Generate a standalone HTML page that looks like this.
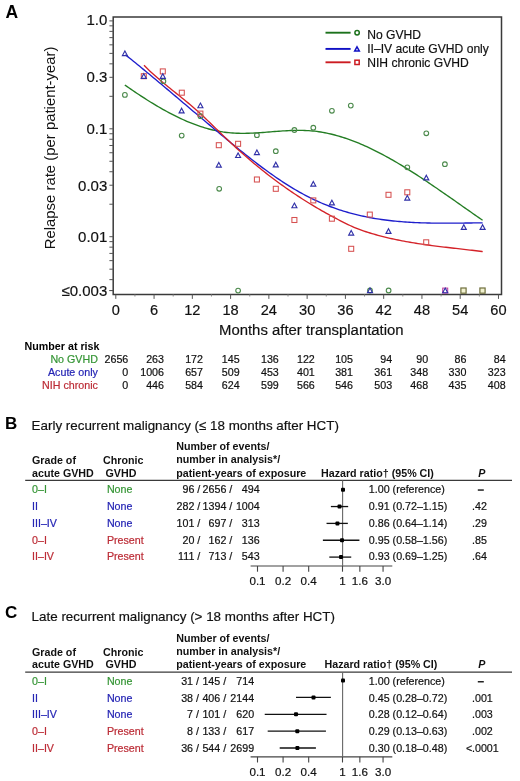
<!DOCTYPE html>
<html><head><meta charset="utf-8"><style>
html,body{margin:0;padding:0;background:#fff;}
svg{display:block;font-family:"Liberation Sans", sans-serif;filter:blur(0.35px);}
</style></head><body>
<svg width="520" height="781" viewBox="0 0 520 781">
<rect width="520" height="781" fill="#fff"/>
<text x="5.60" y="18.00" font-size="17.5" text-anchor="start" font-weight="bold" font-style="normal" fill="#000" >A</text>
<path d="M113.2,294.5 L113.2,17.0 L501.5,17.0 L501.5,294.5 Z" fill="none" stroke="#3a3a3a" stroke-width="1.5"/>
<line x1="109.40" y1="20.90" x2="113.20" y2="20.90" stroke="#555" stroke-width="1" />
<line x1="109.40" y1="96.32" x2="113.20" y2="96.32" stroke="#555" stroke-width="1" />
<line x1="109.40" y1="77.32" x2="113.20" y2="77.32" stroke="#555" stroke-width="1" />
<line x1="109.40" y1="63.84" x2="113.20" y2="63.84" stroke="#555" stroke-width="1" />
<line x1="109.40" y1="53.38" x2="113.20" y2="53.38" stroke="#555" stroke-width="1" />
<line x1="109.40" y1="44.84" x2="113.20" y2="44.84" stroke="#555" stroke-width="1" />
<line x1="109.40" y1="37.61" x2="113.20" y2="37.61" stroke="#555" stroke-width="1" />
<line x1="109.40" y1="31.36" x2="113.20" y2="31.36" stroke="#555" stroke-width="1" />
<line x1="109.40" y1="25.84" x2="113.20" y2="25.84" stroke="#555" stroke-width="1" />
<line x1="109.40" y1="128.80" x2="113.20" y2="128.80" stroke="#555" stroke-width="1" />
<line x1="109.40" y1="204.22" x2="113.20" y2="204.22" stroke="#555" stroke-width="1" />
<line x1="109.40" y1="185.22" x2="113.20" y2="185.22" stroke="#555" stroke-width="1" />
<line x1="109.40" y1="171.74" x2="113.20" y2="171.74" stroke="#555" stroke-width="1" />
<line x1="109.40" y1="161.28" x2="113.20" y2="161.28" stroke="#555" stroke-width="1" />
<line x1="109.40" y1="152.74" x2="113.20" y2="152.74" stroke="#555" stroke-width="1" />
<line x1="109.40" y1="145.51" x2="113.20" y2="145.51" stroke="#555" stroke-width="1" />
<line x1="109.40" y1="139.26" x2="113.20" y2="139.26" stroke="#555" stroke-width="1" />
<line x1="109.40" y1="133.74" x2="113.20" y2="133.74" stroke="#555" stroke-width="1" />
<line x1="109.40" y1="236.70" x2="113.20" y2="236.70" stroke="#555" stroke-width="1" />
<line x1="109.40" y1="279.64" x2="113.20" y2="279.64" stroke="#555" stroke-width="1" />
<line x1="109.40" y1="269.18" x2="113.20" y2="269.18" stroke="#555" stroke-width="1" />
<line x1="109.40" y1="260.64" x2="113.20" y2="260.64" stroke="#555" stroke-width="1" />
<line x1="109.40" y1="253.41" x2="113.20" y2="253.41" stroke="#555" stroke-width="1" />
<line x1="109.40" y1="247.16" x2="113.20" y2="247.16" stroke="#555" stroke-width="1" />
<line x1="109.40" y1="241.64" x2="113.20" y2="241.64" stroke="#555" stroke-width="1" />
<line x1="109.20" y1="290.60" x2="113.20" y2="290.60" stroke="#444" stroke-width="1" />
<text x="107.30" y="25.30" font-size="15" text-anchor="end" font-weight="normal" font-style="normal" fill="#111" stroke="#111" stroke-width="0.18" >1.0</text>
<text x="107.30" y="81.72" font-size="15" text-anchor="end" font-weight="normal" font-style="normal" fill="#111" stroke="#111" stroke-width="0.18" >0.3</text>
<text x="107.30" y="134.00" font-size="15" text-anchor="end" font-weight="normal" font-style="normal" fill="#111" stroke="#111" stroke-width="0.18" >0.1</text>
<text x="107.30" y="190.62" font-size="15" text-anchor="end" font-weight="normal" font-style="normal" fill="#111" stroke="#111" stroke-width="0.18" >0.03</text>
<text x="107.30" y="242.10" font-size="15" text-anchor="end" font-weight="normal" font-style="normal" fill="#111" stroke="#111" stroke-width="0.18" >0.01</text>
<text x="107.30" y="296.20" font-size="15" text-anchor="end" font-weight="normal" font-style="normal" fill="#111" stroke="#111" stroke-width="0.18" >≤0.003</text>
<line x1="115.80" y1="294.50" x2="115.80" y2="298.90" stroke="#555" stroke-width="1" />
<text x="115.80" y="315.20" font-size="14.6" text-anchor="middle" font-weight="normal" font-style="normal" fill="#111" stroke="#111" stroke-width="0.18" >0</text>
<line x1="134.93" y1="294.50" x2="134.93" y2="296.50" stroke="#888" stroke-width="1" />
<line x1="154.07" y1="294.50" x2="154.07" y2="298.90" stroke="#555" stroke-width="1" />
<text x="154.07" y="315.20" font-size="14.6" text-anchor="middle" font-weight="normal" font-style="normal" fill="#111" stroke="#111" stroke-width="0.18" >6</text>
<line x1="173.20" y1="294.50" x2="173.20" y2="296.50" stroke="#888" stroke-width="1" />
<line x1="192.34" y1="294.50" x2="192.34" y2="298.90" stroke="#555" stroke-width="1" />
<text x="192.34" y="315.20" font-size="14.6" text-anchor="middle" font-weight="normal" font-style="normal" fill="#111" stroke="#111" stroke-width="0.18" >12</text>
<line x1="211.47" y1="294.50" x2="211.47" y2="296.50" stroke="#888" stroke-width="1" />
<line x1="230.60" y1="294.50" x2="230.60" y2="298.90" stroke="#555" stroke-width="1" />
<text x="230.60" y="315.20" font-size="14.6" text-anchor="middle" font-weight="normal" font-style="normal" fill="#111" stroke="#111" stroke-width="0.18" >18</text>
<line x1="249.74" y1="294.50" x2="249.74" y2="296.50" stroke="#888" stroke-width="1" />
<line x1="268.87" y1="294.50" x2="268.87" y2="298.90" stroke="#555" stroke-width="1" />
<text x="268.87" y="315.20" font-size="14.6" text-anchor="middle" font-weight="normal" font-style="normal" fill="#111" stroke="#111" stroke-width="0.18" >24</text>
<line x1="288.01" y1="294.50" x2="288.01" y2="296.50" stroke="#888" stroke-width="1" />
<line x1="307.14" y1="294.50" x2="307.14" y2="298.90" stroke="#555" stroke-width="1" />
<text x="307.14" y="315.20" font-size="14.6" text-anchor="middle" font-weight="normal" font-style="normal" fill="#111" stroke="#111" stroke-width="0.18" >30</text>
<line x1="326.27" y1="294.50" x2="326.27" y2="296.50" stroke="#888" stroke-width="1" />
<line x1="345.41" y1="294.50" x2="345.41" y2="298.90" stroke="#555" stroke-width="1" />
<text x="345.41" y="315.20" font-size="14.6" text-anchor="middle" font-weight="normal" font-style="normal" fill="#111" stroke="#111" stroke-width="0.18" >36</text>
<line x1="364.54" y1="294.50" x2="364.54" y2="296.50" stroke="#888" stroke-width="1" />
<line x1="383.68" y1="294.50" x2="383.68" y2="298.90" stroke="#555" stroke-width="1" />
<text x="383.68" y="315.20" font-size="14.6" text-anchor="middle" font-weight="normal" font-style="normal" fill="#111" stroke="#111" stroke-width="0.18" >42</text>
<line x1="402.81" y1="294.50" x2="402.81" y2="296.50" stroke="#888" stroke-width="1" />
<line x1="421.94" y1="294.50" x2="421.94" y2="298.90" stroke="#555" stroke-width="1" />
<text x="421.94" y="315.20" font-size="14.6" text-anchor="middle" font-weight="normal" font-style="normal" fill="#111" stroke="#111" stroke-width="0.18" >48</text>
<line x1="441.08" y1="294.50" x2="441.08" y2="296.50" stroke="#888" stroke-width="1" />
<line x1="460.21" y1="294.50" x2="460.21" y2="298.90" stroke="#555" stroke-width="1" />
<text x="460.21" y="315.20" font-size="14.6" text-anchor="middle" font-weight="normal" font-style="normal" fill="#111" stroke="#111" stroke-width="0.18" >54</text>
<line x1="479.35" y1="294.50" x2="479.35" y2="296.50" stroke="#888" stroke-width="1" />
<line x1="498.48" y1="294.50" x2="498.48" y2="298.90" stroke="#555" stroke-width="1" />
<text x="498.48" y="315.20" font-size="14.6" text-anchor="middle" font-weight="normal" font-style="normal" fill="#111" stroke="#111" stroke-width="0.18" >60</text>
<text x="311.30" y="335.00" font-size="14.9" text-anchor="middle" font-weight="normal" font-style="normal" fill="#111" stroke="#111" stroke-width="0.18" >Months after transplantation</text>
<text transform="translate(54.8,147.9) rotate(-90)" x="0" y="0" font-size="14.9" text-anchor="middle" fill="#111">Relapse rate (per patient-year)</text>
<path d="M124.80,84.94 L126.80,86.34 L128.80,87.73 L130.80,89.11 L132.80,90.48 L134.80,91.84 L136.80,93.19 L138.80,94.52 L140.80,95.84 L142.80,97.14 L144.80,98.43 L146.80,99.71 L148.80,100.97 L150.80,102.21 L152.80,103.44 L154.80,104.65 L156.80,105.84 L158.80,107.01 L160.80,108.17 L162.80,109.31 L164.80,110.42 L166.80,111.52 L168.80,112.60 L170.80,113.65 L172.80,114.69 L174.80,115.70 L176.80,116.68 L178.80,117.65 L180.80,118.59 L182.80,119.51 L184.80,120.40 L186.80,121.27 L188.80,122.11 L190.80,122.92 L192.80,123.71 L194.80,124.47 L196.80,125.20 L198.80,125.90 L200.80,126.58 L202.80,127.22 L204.80,127.84 L206.80,128.42 L208.80,128.98 L210.80,129.50 L212.80,129.99 L214.80,130.44 L216.80,130.87 L218.80,131.26 L220.80,131.61 L222.80,131.94 L224.80,132.22 L226.80,132.47 L228.80,132.69 L230.80,132.87 L232.80,133.02 L234.80,133.14 L236.80,133.22 L238.80,133.29 L240.80,133.32 L242.80,133.33 L244.80,133.32 L246.80,133.29 L248.80,133.24 L250.80,133.17 L252.80,133.08 L254.80,132.98 L256.80,132.87 L258.80,132.74 L260.80,132.61 L262.80,132.46 L264.80,132.32 L266.80,132.16 L268.80,132.00 L270.80,131.85 L272.80,131.69 L274.80,131.53 L276.80,131.37 L278.80,131.23 L280.80,131.08 L282.80,130.95 L284.80,130.82 L286.80,130.71 L288.80,130.61 L290.80,130.52 L292.80,130.45 L294.80,130.40 L296.80,130.36 L298.80,130.35 L300.80,130.36 L302.80,130.40 L304.80,130.46 L306.80,130.55 L308.80,130.66 L310.80,130.81 L312.80,130.99 L314.80,131.20 L316.80,131.45 L318.80,131.72 L320.80,132.03 L322.80,132.37 L324.80,132.74 L326.80,133.14 L328.80,133.56 L330.80,134.02 L332.80,134.51 L334.80,135.02 L336.80,135.56 L338.80,136.13 L340.80,136.73 L342.80,137.35 L344.80,138.00 L346.80,138.67 L348.80,139.37 L350.80,140.10 L352.80,140.84 L354.80,141.62 L356.80,142.41 L358.80,143.23 L360.80,144.07 L362.80,144.93 L364.80,145.82 L366.80,146.72 L368.80,147.65 L370.80,148.59 L372.80,149.56 L374.80,150.54 L376.80,151.55 L378.80,152.57 L380.80,153.61 L382.80,154.67 L384.80,155.75 L386.80,156.84 L388.80,157.95 L390.80,159.07 L392.80,160.21 L394.80,161.37 L396.80,162.54 L398.80,163.72 L400.80,164.92 L402.80,166.13 L404.80,167.36 L406.80,168.59 L408.80,169.84 L410.80,171.10 L412.80,172.37 L414.80,173.65 L416.80,174.94 L418.80,176.24 L420.80,177.55 L422.80,178.87 L424.80,180.20 L426.80,181.53 L428.80,182.88 L430.80,184.23 L432.80,185.58 L434.80,186.95 L436.80,188.31 L438.80,189.69 L440.80,191.07 L442.80,192.45 L444.80,193.84 L446.80,195.23 L448.80,196.62 L450.80,198.02 L452.80,199.42 L454.80,200.82 L456.80,202.22 L458.80,203.62 L460.80,205.03 L462.80,206.43 L464.80,207.83 L466.80,209.23 L468.80,210.64 L470.80,212.03 L472.80,213.43 L474.80,214.83 L476.80,216.22 L478.80,217.61 L480.80,218.99 L482.60,220.23" fill="none" stroke="#237d23" stroke-width="1.35" stroke-linejoin="round"/>
<path d="M125.40,54.77 L127.40,56.37 L129.40,57.97 L131.40,59.59 L133.40,61.20 L135.40,62.83 L137.40,64.45 L139.40,66.09 L141.40,67.73 L143.40,69.37 L145.40,71.02 L147.40,72.67 L149.40,74.33 L151.40,75.99 L153.40,77.65 L155.40,79.32 L157.40,80.99 L159.40,82.66 L161.40,84.34 L163.40,86.02 L165.40,87.70 L167.40,89.39 L169.40,91.07 L171.40,92.76 L173.40,94.45 L175.40,96.14 L177.40,97.83 L179.40,99.53 L181.40,101.22 L183.40,102.91 L185.40,104.61 L187.40,106.30 L189.40,108.00 L191.40,109.69 L193.40,111.39 L195.40,113.08 L197.40,114.77 L199.40,116.46 L201.40,118.15 L203.40,119.84 L205.40,121.52 L207.40,123.21 L209.40,124.89 L211.40,126.57 L213.40,128.24 L215.40,129.92 L217.40,131.59 L219.40,133.25 L221.40,134.92 L223.40,136.58 L225.40,138.23 L227.40,139.88 L229.40,141.53 L231.40,143.17 L233.40,144.81 L235.40,146.44 L237.40,148.07 L239.40,149.68 L241.40,151.30 L243.40,152.90 L245.40,154.49 L247.40,156.08 L249.40,157.65 L251.40,159.22 L253.40,160.77 L255.40,162.31 L257.40,163.84 L259.40,165.35 L261.40,166.86 L263.40,168.35 L265.40,169.82 L267.40,171.28 L269.40,172.72 L271.40,174.14 L273.40,175.55 L275.40,176.94 L277.40,178.32 L279.40,179.67 L281.40,181.00 L283.40,182.32 L285.40,183.61 L287.40,184.88 L289.40,186.13 L291.40,187.36 L293.40,188.57 L295.40,189.75 L297.40,190.91 L299.40,192.05 L301.40,193.17 L303.40,194.26 L305.40,195.33 L307.40,196.37 L309.40,197.39 L311.40,198.39 L313.40,199.36 L315.40,200.30 L317.40,201.23 L319.40,202.12 L321.40,203.00 L323.40,203.84 L325.40,204.67 L327.40,205.47 L329.40,206.25 L331.40,207.00 L333.40,207.74 L335.40,208.45 L337.40,209.14 L339.40,209.81 L341.40,210.46 L343.40,211.08 L345.40,211.69 L347.40,212.27 L349.40,212.84 L351.40,213.39 L353.40,213.92 L355.40,214.42 L357.40,214.92 L359.40,215.39 L361.40,215.84 L363.40,216.28 L365.40,216.70 L367.40,217.10 L369.40,217.49 L371.40,217.86 L373.40,218.22 L375.40,218.56 L377.40,218.88 L379.40,219.19 L381.40,219.48 L383.40,219.76 L385.40,220.03 L387.40,220.28 L389.40,220.52 L391.40,220.75 L393.40,220.96 L395.40,221.17 L397.40,221.36 L399.40,221.53 L401.40,221.70 L403.40,221.86 L405.40,222.00 L407.40,222.14 L409.40,222.26 L411.40,222.38 L413.40,222.49 L415.40,222.58 L417.40,222.67 L419.40,222.75 L421.40,222.82 L423.40,222.89 L425.40,222.95 L427.40,222.99 L429.40,223.04 L431.40,223.07 L433.40,223.11 L435.40,223.13 L437.40,223.15 L439.40,223.16 L441.40,223.17 L443.40,223.18 L445.40,223.18 L447.40,223.18 L449.40,223.17 L451.40,223.16 L453.40,223.15 L455.40,223.13 L457.40,223.12 L459.40,223.10 L461.40,223.08 L463.40,223.06 L465.40,223.03 L467.40,223.01 L469.40,222.99 L471.40,222.96 L473.40,222.94 L475.40,222.92 L477.40,222.90 L479.40,222.88 L481.40,222.86 L482.60,222.85" fill="none" stroke="#1e1ecc" stroke-width="1.35" stroke-linejoin="round"/>
<path d="M144.00,65.34 L146.00,67.33 L148.00,69.27 L150.00,71.16 L152.00,73.01 L154.00,74.83 L156.00,76.60 L158.00,78.35 L160.00,80.06 L162.00,81.75 L164.00,83.42 L166.00,85.06 L168.00,86.70 L170.00,88.32 L172.00,89.93 L174.00,91.53 L176.00,93.13 L178.00,94.74 L180.00,96.34 L182.00,97.96 L184.00,99.59 L186.00,101.23 L188.00,102.88 L190.00,104.56 L192.00,106.27 L194.00,108.00 L196.00,109.76 L198.00,111.55 L200.00,113.37 L202.00,115.22 L204.00,117.09 L206.00,118.98 L208.00,120.88 L210.00,122.80 L212.00,124.73 L214.00,126.67 L216.00,128.61 L218.00,130.55 L220.00,132.49 L222.00,134.43 L224.00,136.37 L226.00,138.29 L228.00,140.20 L230.00,142.09 L232.00,143.97 L234.00,145.83 L236.00,147.67 L238.00,149.49 L240.00,151.29 L242.00,153.07 L244.00,154.84 L246.00,156.59 L248.00,158.32 L250.00,160.04 L252.00,161.73 L254.00,163.41 L256.00,165.07 L258.00,166.72 L260.00,168.34 L262.00,169.95 L264.00,171.55 L266.00,173.12 L268.00,174.68 L270.00,176.23 L272.00,177.75 L274.00,179.26 L276.00,180.75 L278.00,182.23 L280.00,183.69 L282.00,185.14 L284.00,186.56 L286.00,187.98 L288.00,189.37 L290.00,190.75 L292.00,192.12 L294.00,193.47 L296.00,194.80 L298.00,196.12 L300.00,197.43 L302.00,198.72 L304.00,199.99 L306.00,201.25 L308.00,202.49 L310.00,203.72 L312.00,204.93 L314.00,206.13 L316.00,207.32 L318.00,208.49 L320.00,209.65 L322.00,210.79 L324.00,211.92 L326.00,213.04 L328.00,214.15 L330.00,215.24 L332.00,216.32 L334.00,217.40 L336.00,218.46 L338.00,219.51 L340.00,220.55 L342.00,221.58 L344.00,222.60 L346.00,223.60 L348.00,224.57 L350.00,225.51 L352.00,226.41 L354.00,227.28 L356.00,228.11 L358.00,228.90 L360.00,229.65 L362.00,230.38 L364.00,231.08 L366.00,231.75 L368.00,232.39 L370.00,233.01 L372.00,233.61 L374.00,234.19 L376.00,234.75 L378.00,235.30 L380.00,235.84 L382.00,236.36 L384.00,236.86 L386.00,237.35 L388.00,237.82 L390.00,238.29 L392.00,238.74 L394.00,239.17 L396.00,239.60 L398.00,240.01 L400.00,240.41 L402.00,240.80 L404.00,241.18 L406.00,241.54 L408.00,241.90 L410.00,242.25 L412.00,242.59 L414.00,242.92 L416.00,243.24 L418.00,243.55 L420.00,243.86 L422.00,244.16 L424.00,244.45 L426.00,244.73 L428.00,245.01 L430.00,245.28 L432.00,245.55 L434.00,245.81 L436.00,246.07 L438.00,246.32 L440.00,246.57 L442.00,246.81 L444.00,247.05 L446.00,247.29 L448.00,247.53 L450.00,247.76 L452.00,247.99 L454.00,248.22 L456.00,248.45 L458.00,248.68 L460.00,248.91 L462.00,249.14 L464.00,249.37 L466.00,249.59 L468.00,249.83 L470.00,250.06 L472.00,250.29 L474.00,250.53 L476.00,250.77 L478.00,251.01 L480.00,251.26 L482.00,251.51 L482.70,251.60" fill="none" stroke="#d42228" stroke-width="1.35" stroke-linejoin="round"/>
<circle cx="124.9" cy="94.9" r="2.35" fill="none" stroke="#4c8a4c" stroke-width="1.1"/>
<circle cx="163.4" cy="81.2" r="2.35" fill="none" stroke="#4c8a4c" stroke-width="1.1"/>
<circle cx="181.7" cy="135.6" r="2.35" fill="none" stroke="#4c8a4c" stroke-width="1.1"/>
<circle cx="200.5" cy="116.2" r="2.35" fill="none" stroke="#4c8a4c" stroke-width="1.1"/>
<circle cx="219.2" cy="188.8" r="2.35" fill="none" stroke="#4c8a4c" stroke-width="1.1"/>
<circle cx="238.1" cy="290.6" r="2.35" fill="none" stroke="#4c8a4c" stroke-width="1.1"/>
<circle cx="256.9" cy="135.2" r="2.35" fill="none" stroke="#4c8a4c" stroke-width="1.1"/>
<circle cx="275.8" cy="151.2" r="2.35" fill="none" stroke="#4c8a4c" stroke-width="1.1"/>
<circle cx="294.4" cy="130" r="2.35" fill="none" stroke="#4c8a4c" stroke-width="1.1"/>
<circle cx="313.3" cy="127.7" r="2.35" fill="none" stroke="#4c8a4c" stroke-width="1.1"/>
<circle cx="331.9" cy="110.8" r="2.35" fill="none" stroke="#4c8a4c" stroke-width="1.1"/>
<circle cx="350.8" cy="105.6" r="2.35" fill="none" stroke="#4c8a4c" stroke-width="1.1"/>
<circle cx="370" cy="290.5" r="2.35" fill="none" stroke="#4c8a4c" stroke-width="1.1"/>
<circle cx="388.6" cy="290.5" r="2.35" fill="none" stroke="#4c8a4c" stroke-width="1.1"/>
<circle cx="407.3" cy="167.3" r="2.35" fill="none" stroke="#4c8a4c" stroke-width="1.1"/>
<circle cx="426.3" cy="133.3" r="2.35" fill="none" stroke="#4c8a4c" stroke-width="1.1"/>
<circle cx="444.9" cy="164.2" r="2.35" fill="none" stroke="#4c8a4c" stroke-width="1.1"/>
<rect x="141.3" y="73.7" width="5" height="5" fill="none" stroke="#d65050" stroke-width="1.05"/>
<rect x="160.3" y="68.9" width="5" height="5" fill="none" stroke="#d65050" stroke-width="1.05"/>
<rect x="179.3" y="90.2" width="5" height="5" fill="none" stroke="#d65050" stroke-width="1.05"/>
<rect x="197.9" y="111.1" width="5" height="5" fill="none" stroke="#d65050" stroke-width="1.05"/>
<rect x="216.3" y="142.7" width="5" height="5" fill="none" stroke="#d65050" stroke-width="1.05"/>
<rect x="235.6" y="141.3" width="5" height="5" fill="none" stroke="#d65050" stroke-width="1.05"/>
<rect x="254.39999999999998" y="177.0" width="5" height="5" fill="none" stroke="#d65050" stroke-width="1.05"/>
<rect x="273.3" y="186.3" width="5" height="5" fill="none" stroke="#d65050" stroke-width="1.05"/>
<rect x="291.9" y="217.5" width="5" height="5" fill="none" stroke="#d65050" stroke-width="1.05"/>
<rect x="310.8" y="197.9" width="5" height="5" fill="none" stroke="#d65050" stroke-width="1.05"/>
<rect x="329.4" y="216.2" width="5" height="5" fill="none" stroke="#d65050" stroke-width="1.05"/>
<rect x="348.7" y="246.3" width="5" height="5" fill="none" stroke="#d65050" stroke-width="1.05"/>
<rect x="367.3" y="212.1" width="5" height="5" fill="none" stroke="#d65050" stroke-width="1.05"/>
<rect x="386.0" y="192.3" width="5" height="5" fill="none" stroke="#d65050" stroke-width="1.05"/>
<rect x="404.8" y="189.8" width="5" height="5" fill="none" stroke="#d65050" stroke-width="1.05"/>
<rect x="423.7" y="239.8" width="5" height="5" fill="none" stroke="#d65050" stroke-width="1.05"/>
<rect x="442.7" y="288.1" width="5" height="5" fill="none" stroke="#c040a0" stroke-width="1.05"/>
<path d="M124.9,51.0 L127.4,55.6 L122.4,55.6 Z" fill="none" stroke="#3030a8" stroke-width="1.15" stroke-linejoin="miter"/>
<path d="M143.8,73.7 L146.3,78.3 L141.3,78.3 Z" fill="none" stroke="#3030a8" stroke-width="1.15" stroke-linejoin="miter"/>
<path d="M162.8,73.7 L165.3,78.3 L160.3,78.3 Z" fill="none" stroke="#3030a8" stroke-width="1.15" stroke-linejoin="miter"/>
<path d="M181.6,108.3 L184.1,112.89999999999999 L179.1,112.89999999999999 Z" fill="none" stroke="#3030a8" stroke-width="1.15" stroke-linejoin="miter"/>
<path d="M200.4,103.1 L202.9,107.69999999999999 L197.9,107.69999999999999 Z" fill="none" stroke="#3030a8" stroke-width="1.15" stroke-linejoin="miter"/>
<path d="M218.8,162.5 L221.3,167.1 L216.3,167.1 Z" fill="none" stroke="#3030a8" stroke-width="1.15" stroke-linejoin="miter"/>
<path d="M238.1,152.9 L240.6,157.5 L235.6,157.5 Z" fill="none" stroke="#3030a8" stroke-width="1.15" stroke-linejoin="miter"/>
<path d="M256.9,150.0 L259.4,154.6 L254.39999999999998,154.6 Z" fill="none" stroke="#3030a8" stroke-width="1.15" stroke-linejoin="miter"/>
<path d="M275.8,162.3 L278.3,166.9 L273.3,166.9 Z" fill="none" stroke="#3030a8" stroke-width="1.15" stroke-linejoin="miter"/>
<path d="M294.4,203.1 L296.9,207.7 L291.9,207.7 Z" fill="none" stroke="#3030a8" stroke-width="1.15" stroke-linejoin="miter"/>
<path d="M313.3,181.5 L315.8,186.1 L310.8,186.1 Z" fill="none" stroke="#3030a8" stroke-width="1.15" stroke-linejoin="miter"/>
<path d="M331.9,200.2 L334.4,204.79999999999998 L329.4,204.79999999999998 Z" fill="none" stroke="#3030a8" stroke-width="1.15" stroke-linejoin="miter"/>
<path d="M351.2,230.5 L353.7,235.1 L348.7,235.1 Z" fill="none" stroke="#3030a8" stroke-width="1.15" stroke-linejoin="miter"/>
<path d="M370,288.0 L372.5,292.6 L367.5,292.6 Z" fill="none" stroke="#3030a8" stroke-width="1.15" stroke-linejoin="miter"/>
<path d="M388.5,228.8 L391.0,233.4 L386.0,233.4 Z" fill="none" stroke="#3030a8" stroke-width="1.15" stroke-linejoin="miter"/>
<path d="M407.3,195.5 L409.8,200.1 L404.8,200.1 Z" fill="none" stroke="#3030a8" stroke-width="1.15" stroke-linejoin="miter"/>
<path d="M426.3,175.3 L428.8,179.9 L423.8,179.9 Z" fill="none" stroke="#3030a8" stroke-width="1.15" stroke-linejoin="miter"/>
<path d="M445.2,288.1 L447.7,292.70000000000005 L442.7,292.70000000000005 Z" fill="none" stroke="#3030a8" stroke-width="1.15" stroke-linejoin="miter"/>
<path d="M463.8,224.8 L466.3,229.4 L461.3,229.4 Z" fill="none" stroke="#3030a8" stroke-width="1.15" stroke-linejoin="miter"/>
<path d="M482.6,224.8 L485.1,229.4 L480.1,229.4 Z" fill="none" stroke="#3030a8" stroke-width="1.15" stroke-linejoin="miter"/>
<rect x="460.9" y="288.0" width="5.2" height="5.2" fill="#f2f2d0" stroke="#6e6e3c" stroke-width="1.2"/>
<rect x="479.9" y="288.0" width="5.2" height="5.2" fill="#f2f2d0" stroke="#6e6e3c" stroke-width="1.2"/>
<line x1="325.50" y1="32.70" x2="350.60" y2="32.70" stroke="#1c721c" stroke-width="1.9" />
<circle cx="357.1" cy="32.7" r="2.2" fill="none" stroke="#1c721c" stroke-width="1.5"/>
<text x="367.20" y="38.60" font-size="12.1" text-anchor="start" font-weight="normal" font-style="normal" fill="#111" stroke="#111" stroke-width="0.18" >No GVHD</text>
<line x1="325.50" y1="48.90" x2="350.60" y2="48.90" stroke="#1010c4" stroke-width="1.9" />
<path d="M357,46.8 L359.3,50.9 L354.7,50.9 Z" fill="none" stroke="#1010c4" stroke-width="1.5"/>
<text x="367.20" y="52.90" font-size="12.1" text-anchor="start" font-weight="normal" font-style="normal" fill="#111" stroke="#111" stroke-width="0.18" >II–IV acute GVHD only</text>
<line x1="325.50" y1="62.30" x2="350.60" y2="62.30" stroke="#cc1c22" stroke-width="1.9" />
<rect x="354.9" y="60.199999999999996" width="4.3" height="4.3" fill="none" stroke="#cc1c22" stroke-width="1.5"/>
<text x="367.20" y="67.20" font-size="12.1" text-anchor="start" font-weight="normal" font-style="normal" fill="#111" stroke="#111" stroke-width="0.18" >NIH chronic GVHD</text>
<text x="24.60" y="350.00" font-size="10.7" text-anchor="start" font-weight="bold" font-style="normal" fill="#000" >Number at risk</text>
<text x="97.90" y="362.80" font-size="10.7" text-anchor="end" font-weight="normal" font-style="normal" fill="#359535" stroke="#359535" stroke-width="0.2" >No GVHD</text>
<text x="128.30" y="362.80" font-size="10.7" text-anchor="end" font-weight="normal" font-style="normal" fill="#111" stroke="#111" stroke-width="0.2" >2656</text>
<text x="164.00" y="362.80" font-size="10.7" text-anchor="end" font-weight="normal" font-style="normal" fill="#111" stroke="#111" stroke-width="0.2" >263</text>
<text x="203.00" y="362.80" font-size="10.7" text-anchor="end" font-weight="normal" font-style="normal" fill="#111" stroke="#111" stroke-width="0.2" >172</text>
<text x="239.60" y="362.80" font-size="10.7" text-anchor="end" font-weight="normal" font-style="normal" fill="#111" stroke="#111" stroke-width="0.2" >145</text>
<text x="278.80" y="362.80" font-size="10.7" text-anchor="end" font-weight="normal" font-style="normal" fill="#111" stroke="#111" stroke-width="0.2" >136</text>
<text x="314.80" y="362.80" font-size="10.7" text-anchor="end" font-weight="normal" font-style="normal" fill="#111" stroke="#111" stroke-width="0.2" >122</text>
<text x="353.00" y="362.80" font-size="10.7" text-anchor="end" font-weight="normal" font-style="normal" fill="#111" stroke="#111" stroke-width="0.2" >105</text>
<text x="392.20" y="362.80" font-size="10.7" text-anchor="end" font-weight="normal" font-style="normal" fill="#111" stroke="#111" stroke-width="0.2" >94</text>
<text x="428.20" y="362.80" font-size="10.7" text-anchor="end" font-weight="normal" font-style="normal" fill="#111" stroke="#111" stroke-width="0.2" >90</text>
<text x="466.40" y="362.80" font-size="10.7" text-anchor="end" font-weight="normal" font-style="normal" fill="#111" stroke="#111" stroke-width="0.2" >86</text>
<text x="505.70" y="362.80" font-size="10.7" text-anchor="end" font-weight="normal" font-style="normal" fill="#111" stroke="#111" stroke-width="0.2" >84</text>
<text x="97.90" y="376.00" font-size="10.7" text-anchor="end" font-weight="normal" font-style="normal" fill="#2424b4" stroke="#2424b4" stroke-width="0.2" >Acute only</text>
<text x="128.30" y="376.00" font-size="10.7" text-anchor="end" font-weight="normal" font-style="normal" fill="#111" stroke="#111" stroke-width="0.2" >0</text>
<text x="164.00" y="376.00" font-size="10.7" text-anchor="end" font-weight="normal" font-style="normal" fill="#111" stroke="#111" stroke-width="0.2" >1006</text>
<text x="203.00" y="376.00" font-size="10.7" text-anchor="end" font-weight="normal" font-style="normal" fill="#111" stroke="#111" stroke-width="0.2" >657</text>
<text x="239.60" y="376.00" font-size="10.7" text-anchor="end" font-weight="normal" font-style="normal" fill="#111" stroke="#111" stroke-width="0.2" >509</text>
<text x="278.80" y="376.00" font-size="10.7" text-anchor="end" font-weight="normal" font-style="normal" fill="#111" stroke="#111" stroke-width="0.2" >453</text>
<text x="314.80" y="376.00" font-size="10.7" text-anchor="end" font-weight="normal" font-style="normal" fill="#111" stroke="#111" stroke-width="0.2" >401</text>
<text x="353.00" y="376.00" font-size="10.7" text-anchor="end" font-weight="normal" font-style="normal" fill="#111" stroke="#111" stroke-width="0.2" >381</text>
<text x="392.20" y="376.00" font-size="10.7" text-anchor="end" font-weight="normal" font-style="normal" fill="#111" stroke="#111" stroke-width="0.2" >361</text>
<text x="428.20" y="376.00" font-size="10.7" text-anchor="end" font-weight="normal" font-style="normal" fill="#111" stroke="#111" stroke-width="0.2" >348</text>
<text x="466.40" y="376.00" font-size="10.7" text-anchor="end" font-weight="normal" font-style="normal" fill="#111" stroke="#111" stroke-width="0.2" >330</text>
<text x="505.70" y="376.00" font-size="10.7" text-anchor="end" font-weight="normal" font-style="normal" fill="#111" stroke="#111" stroke-width="0.2" >323</text>
<text x="97.90" y="389.20" font-size="10.7" text-anchor="end" font-weight="normal" font-style="normal" fill="#bc2c36" stroke="#bc2c36" stroke-width="0.2" >NIH chronic</text>
<text x="128.30" y="389.20" font-size="10.7" text-anchor="end" font-weight="normal" font-style="normal" fill="#111" stroke="#111" stroke-width="0.2" >0</text>
<text x="164.00" y="389.20" font-size="10.7" text-anchor="end" font-weight="normal" font-style="normal" fill="#111" stroke="#111" stroke-width="0.2" >446</text>
<text x="203.00" y="389.20" font-size="10.7" text-anchor="end" font-weight="normal" font-style="normal" fill="#111" stroke="#111" stroke-width="0.2" >584</text>
<text x="239.60" y="389.20" font-size="10.7" text-anchor="end" font-weight="normal" font-style="normal" fill="#111" stroke="#111" stroke-width="0.2" >624</text>
<text x="278.80" y="389.20" font-size="10.7" text-anchor="end" font-weight="normal" font-style="normal" fill="#111" stroke="#111" stroke-width="0.2" >599</text>
<text x="314.80" y="389.20" font-size="10.7" text-anchor="end" font-weight="normal" font-style="normal" fill="#111" stroke="#111" stroke-width="0.2" >566</text>
<text x="353.00" y="389.20" font-size="10.7" text-anchor="end" font-weight="normal" font-style="normal" fill="#111" stroke="#111" stroke-width="0.2" >546</text>
<text x="392.20" y="389.20" font-size="10.7" text-anchor="end" font-weight="normal" font-style="normal" fill="#111" stroke="#111" stroke-width="0.2" >503</text>
<text x="428.20" y="389.20" font-size="10.7" text-anchor="end" font-weight="normal" font-style="normal" fill="#111" stroke="#111" stroke-width="0.2" >468</text>
<text x="466.40" y="389.20" font-size="10.7" text-anchor="end" font-weight="normal" font-style="normal" fill="#111" stroke="#111" stroke-width="0.2" >435</text>
<text x="505.70" y="389.20" font-size="10.7" text-anchor="end" font-weight="normal" font-style="normal" fill="#111" stroke="#111" stroke-width="0.2" >408</text>
<text x="5.00" y="428.50" font-size="17" text-anchor="start" font-weight="bold" font-style="normal" fill="#000" >B</text>
<text x="31.60" y="429.60" font-size="13.4" text-anchor="start" font-weight="normal" font-style="normal" fill="#111" stroke="#111" stroke-width="0.18" >Early recurrent malignancy (≤ 18 months after HCT)</text>
<text x="32.00" y="464.40" font-size="10.7" text-anchor="start" font-weight="bold" font-style="normal" fill="#111" >Grade of</text>
<text x="32.00" y="476.60" font-size="10.7" text-anchor="start" font-weight="bold" font-style="normal" fill="#111" >acute GVHD</text>
<text x="103.00" y="464.40" font-size="10.7" text-anchor="start" font-weight="bold" font-style="normal" fill="#111" >Chronic</text>
<text x="105.50" y="476.60" font-size="10.7" text-anchor="start" font-weight="bold" font-style="normal" fill="#111" >GVHD</text>
<text x="176.20" y="450.20" font-size="10.7" text-anchor="start" font-weight="bold" font-style="normal" fill="#111" >Number of events/</text>
<text x="176.20" y="463.40" font-size="10.7" text-anchor="start" font-weight="bold" font-style="normal" fill="#111" >number in analysis*/</text>
<text x="176.20" y="476.60" font-size="10.7" text-anchor="start" font-weight="bold" font-style="normal" fill="#111" >patient-years of exposure</text>
<text x="321.00" y="476.60" font-size="10.7" text-anchor="start" font-weight="bold" font-style="normal" fill="#111" >Hazard ratio† (95% CI)</text>
<text x="481.80" y="476.60" font-size="10.7" text-anchor="middle" font-weight="bold" font-style="italic" fill="#111" >P</text>
<line x1="25.20" y1="480.40" x2="512.00" y2="480.40" stroke="#3a3a3a" stroke-width="1.1" />
<line x1="250.60" y1="566.00" x2="392.30" y2="566.00" stroke="#444" stroke-width="1.2" />
<line x1="342.60" y1="480.40" x2="342.60" y2="566.00" stroke="#666" stroke-width="1.1" />
<line x1="257.50" y1="566.00" x2="257.50" y2="571.70" stroke="#444" stroke-width="1.1" />
<text x="257.50" y="584.70" font-size="11.6" text-anchor="middle" font-weight="normal" font-style="normal" fill="#111" stroke="#111" stroke-width="0.2" >0.1</text>
<line x1="283.09" y1="566.00" x2="283.09" y2="571.70" stroke="#444" stroke-width="1.1" />
<text x="283.09" y="584.70" font-size="11.6" text-anchor="middle" font-weight="normal" font-style="normal" fill="#111" stroke="#111" stroke-width="0.2" >0.2</text>
<line x1="308.68" y1="566.00" x2="308.68" y2="571.70" stroke="#444" stroke-width="1.1" />
<text x="308.68" y="584.70" font-size="11.6" text-anchor="middle" font-weight="normal" font-style="normal" fill="#111" stroke="#111" stroke-width="0.2" >0.4</text>
<line x1="342.50" y1="566.00" x2="342.50" y2="571.70" stroke="#444" stroke-width="1.1" />
<text x="342.50" y="584.70" font-size="11.6" text-anchor="middle" font-weight="normal" font-style="normal" fill="#111" stroke="#111" stroke-width="0.2" >1</text>
<line x1="359.85" y1="566.00" x2="359.85" y2="571.70" stroke="#444" stroke-width="1.1" />
<text x="359.85" y="584.70" font-size="11.6" text-anchor="middle" font-weight="normal" font-style="normal" fill="#111" stroke="#111" stroke-width="0.2" >1.6</text>
<line x1="383.06" y1="566.00" x2="383.06" y2="571.70" stroke="#444" stroke-width="1.1" />
<text x="383.06" y="584.70" font-size="11.6" text-anchor="middle" font-weight="normal" font-style="normal" fill="#111" stroke="#111" stroke-width="0.2" >3.0</text>
<text x="32.00" y="493.00" font-size="10.7" text-anchor="start" font-weight="normal" font-style="normal" fill="#359535" stroke="#359535" stroke-width="0.2" >0–I</text>
<text x="106.90" y="493.00" font-size="10.7" text-anchor="start" font-weight="normal" font-style="normal" fill="#359535" stroke="#359535" stroke-width="0.2" >None</text>
<text x="200.30" y="493.00" font-size="10.7" text-anchor="end" font-weight="normal" font-style="normal" fill="#111" stroke="#111" stroke-width="0.2" >96 /</text>
<text x="232.30" y="493.00" font-size="10.7" text-anchor="end" font-weight="normal" font-style="normal" fill="#111" stroke="#111" stroke-width="0.2" >2656 /</text>
<text x="259.70" y="493.00" font-size="10.7" text-anchor="end" font-weight="normal" font-style="normal" fill="#111" stroke="#111" stroke-width="0.2" >494</text>
<rect x="341.00" y="487.70" width="4" height="4" rx="1" fill="#000"/>
<text x="368.80" y="493.00" font-size="10.7" text-anchor="start" font-weight="normal" font-style="normal" fill="#111" stroke="#111" stroke-width="0.2" >1.00 (reference)</text>
<rect x="477.8" y="489.30" width="6" height="1.5" fill="#222"/>
<text x="32.00" y="509.85" font-size="10.7" text-anchor="start" font-weight="normal" font-style="normal" fill="#2424b4" stroke="#2424b4" stroke-width="0.2" >II</text>
<text x="106.90" y="509.85" font-size="10.7" text-anchor="start" font-weight="normal" font-style="normal" fill="#2424b4" stroke="#2424b4" stroke-width="0.2" >None</text>
<text x="200.30" y="509.85" font-size="10.7" text-anchor="end" font-weight="normal" font-style="normal" fill="#111" stroke="#111" stroke-width="0.2" >282 /</text>
<text x="232.30" y="509.85" font-size="10.7" text-anchor="end" font-weight="normal" font-style="normal" fill="#111" stroke="#111" stroke-width="0.2" >1394 /</text>
<text x="259.70" y="509.85" font-size="10.7" text-anchor="end" font-weight="normal" font-style="normal" fill="#111" stroke="#111" stroke-width="0.2" >1004</text>
<line x1="330.87" y1="506.55" x2="348.16" y2="506.55" stroke="#111" stroke-width="1.3" />
<rect x="337.52" y="504.55" width="4" height="4" rx="1" fill="#000"/>
<text x="368.80" y="509.85" font-size="10.7" text-anchor="start" font-weight="normal" font-style="normal" fill="#111" stroke="#111" stroke-width="0.2" >0.91 (0.72–1.15)</text>
<text x="472.00" y="509.85" font-size="10.7" text-anchor="start" font-weight="normal" font-style="normal" fill="#111" stroke="#111" stroke-width="0.2" >.42</text>
<text x="32.00" y="526.70" font-size="10.7" text-anchor="start" font-weight="normal" font-style="normal" fill="#2424b4" stroke="#2424b4" stroke-width="0.2" >III–IV</text>
<text x="106.90" y="526.70" font-size="10.7" text-anchor="start" font-weight="normal" font-style="normal" fill="#2424b4" stroke="#2424b4" stroke-width="0.2" >None</text>
<text x="200.30" y="526.70" font-size="10.7" text-anchor="end" font-weight="normal" font-style="normal" fill="#111" stroke="#111" stroke-width="0.2" >101 /</text>
<text x="232.30" y="526.70" font-size="10.7" text-anchor="end" font-weight="normal" font-style="normal" fill="#111" stroke="#111" stroke-width="0.2" >697 /</text>
<text x="259.70" y="526.70" font-size="10.7" text-anchor="end" font-weight="normal" font-style="normal" fill="#111" stroke="#111" stroke-width="0.2" >313</text>
<line x1="326.53" y1="523.40" x2="347.84" y2="523.40" stroke="#111" stroke-width="1.3" />
<rect x="335.43" y="521.40" width="4" height="4" rx="1" fill="#000"/>
<text x="368.80" y="526.70" font-size="10.7" text-anchor="start" font-weight="normal" font-style="normal" fill="#111" stroke="#111" stroke-width="0.2" >0.86 (0.64–1.14)</text>
<text x="472.00" y="526.70" font-size="10.7" text-anchor="start" font-weight="normal" font-style="normal" fill="#111" stroke="#111" stroke-width="0.2" >.29</text>
<text x="32.00" y="543.55" font-size="10.7" text-anchor="start" font-weight="normal" font-style="normal" fill="#bc2c36" stroke="#bc2c36" stroke-width="0.2" >0–I</text>
<text x="106.90" y="543.55" font-size="10.7" text-anchor="start" font-weight="normal" font-style="normal" fill="#bc2c36" stroke="#bc2c36" stroke-width="0.2" >Present</text>
<text x="200.30" y="543.55" font-size="10.7" text-anchor="end" font-weight="normal" font-style="normal" fill="#111" stroke="#111" stroke-width="0.2" >20 /</text>
<text x="232.30" y="543.55" font-size="10.7" text-anchor="end" font-weight="normal" font-style="normal" fill="#111" stroke="#111" stroke-width="0.2" >162 /</text>
<text x="259.70" y="543.55" font-size="10.7" text-anchor="end" font-weight="normal" font-style="normal" fill="#111" stroke="#111" stroke-width="0.2" >136</text>
<line x1="322.89" y1="540.25" x2="359.42" y2="540.25" stroke="#111" stroke-width="1.3" />
<rect x="340.00" y="538.25" width="4" height="4" rx="1" fill="#000"/>
<text x="368.80" y="543.55" font-size="10.7" text-anchor="start" font-weight="normal" font-style="normal" fill="#111" stroke="#111" stroke-width="0.2" >0.95 (0.58–1.56)</text>
<text x="472.00" y="543.55" font-size="10.7" text-anchor="start" font-weight="normal" font-style="normal" fill="#111" stroke="#111" stroke-width="0.2" >.85</text>
<text x="32.00" y="560.40" font-size="10.7" text-anchor="start" font-weight="normal" font-style="normal" fill="#bc2c36" stroke="#bc2c36" stroke-width="0.2" >II–IV</text>
<text x="106.90" y="560.40" font-size="10.7" text-anchor="start" font-weight="normal" font-style="normal" fill="#bc2c36" stroke="#bc2c36" stroke-width="0.2" >Present</text>
<text x="200.30" y="560.40" font-size="10.7" text-anchor="end" font-weight="normal" font-style="normal" fill="#111" stroke="#111" stroke-width="0.2" >111 /</text>
<text x="232.30" y="560.40" font-size="10.7" text-anchor="end" font-weight="normal" font-style="normal" fill="#111" stroke="#111" stroke-width="0.2" >713 /</text>
<text x="259.70" y="560.40" font-size="10.7" text-anchor="end" font-weight="normal" font-style="normal" fill="#111" stroke="#111" stroke-width="0.2" >543</text>
<line x1="329.30" y1="557.10" x2="351.24" y2="557.10" stroke="#111" stroke-width="1.3" />
<rect x="339.00" y="555.10" width="4" height="4" rx="1" fill="#000"/>
<text x="368.80" y="560.40" font-size="10.7" text-anchor="start" font-weight="normal" font-style="normal" fill="#111" stroke="#111" stroke-width="0.2" >0.93 (0.69–1.25)</text>
<text x="472.00" y="560.40" font-size="10.7" text-anchor="start" font-weight="normal" font-style="normal" fill="#111" stroke="#111" stroke-width="0.2" >.64</text>
<text x="5.00" y="617.70" font-size="17" text-anchor="start" font-weight="bold" font-style="normal" fill="#000" >C</text>
<text x="31.60" y="621.30" font-size="13.4" text-anchor="start" font-weight="normal" font-style="normal" fill="#111" stroke="#111" stroke-width="0.18" >Late recurrent malignancy (&gt; 18 months after HCT)</text>
<text x="32.00" y="656.10" font-size="10.7" text-anchor="start" font-weight="bold" font-style="normal" fill="#111" >Grade of</text>
<text x="32.00" y="668.30" font-size="10.7" text-anchor="start" font-weight="bold" font-style="normal" fill="#111" >acute GVHD</text>
<text x="103.00" y="656.10" font-size="10.7" text-anchor="start" font-weight="bold" font-style="normal" fill="#111" >Chronic</text>
<text x="105.50" y="668.30" font-size="10.7" text-anchor="start" font-weight="bold" font-style="normal" fill="#111" >GVHD</text>
<text x="176.20" y="641.90" font-size="10.7" text-anchor="start" font-weight="bold" font-style="normal" fill="#111" >Number of events/</text>
<text x="176.20" y="655.10" font-size="10.7" text-anchor="start" font-weight="bold" font-style="normal" fill="#111" >number in analysis*/</text>
<text x="176.20" y="668.30" font-size="10.7" text-anchor="start" font-weight="bold" font-style="normal" fill="#111" >patient-years of exposure</text>
<text x="324.50" y="668.30" font-size="10.7" text-anchor="start" font-weight="bold" font-style="normal" fill="#111" >Hazard ratio† (95% CI)</text>
<text x="481.80" y="668.30" font-size="10.7" text-anchor="middle" font-weight="bold" font-style="italic" fill="#111" >P</text>
<line x1="25.20" y1="672.10" x2="512.00" y2="672.10" stroke="#3a3a3a" stroke-width="1.1" />
<line x1="250.60" y1="756.80" x2="392.30" y2="756.80" stroke="#444" stroke-width="1.2" />
<line x1="342.60" y1="672.10" x2="342.60" y2="756.80" stroke="#666" stroke-width="1.1" />
<line x1="257.50" y1="756.80" x2="257.50" y2="762.50" stroke="#444" stroke-width="1.1" />
<text x="257.50" y="775.50" font-size="11.6" text-anchor="middle" font-weight="normal" font-style="normal" fill="#111" stroke="#111" stroke-width="0.2" >0.1</text>
<line x1="283.09" y1="756.80" x2="283.09" y2="762.50" stroke="#444" stroke-width="1.1" />
<text x="283.09" y="775.50" font-size="11.6" text-anchor="middle" font-weight="normal" font-style="normal" fill="#111" stroke="#111" stroke-width="0.2" >0.2</text>
<line x1="308.68" y1="756.80" x2="308.68" y2="762.50" stroke="#444" stroke-width="1.1" />
<text x="308.68" y="775.50" font-size="11.6" text-anchor="middle" font-weight="normal" font-style="normal" fill="#111" stroke="#111" stroke-width="0.2" >0.4</text>
<line x1="342.50" y1="756.80" x2="342.50" y2="762.50" stroke="#444" stroke-width="1.1" />
<text x="342.50" y="775.50" font-size="11.6" text-anchor="middle" font-weight="normal" font-style="normal" fill="#111" stroke="#111" stroke-width="0.2" >1</text>
<line x1="359.85" y1="756.80" x2="359.85" y2="762.50" stroke="#444" stroke-width="1.1" />
<text x="359.85" y="775.50" font-size="11.6" text-anchor="middle" font-weight="normal" font-style="normal" fill="#111" stroke="#111" stroke-width="0.2" >1.6</text>
<line x1="383.06" y1="756.80" x2="383.06" y2="762.50" stroke="#444" stroke-width="1.1" />
<text x="383.06" y="775.50" font-size="11.6" text-anchor="middle" font-weight="normal" font-style="normal" fill="#111" stroke="#111" stroke-width="0.2" >3.0</text>
<text x="32.00" y="684.70" font-size="10.7" text-anchor="start" font-weight="normal" font-style="normal" fill="#359535" stroke="#359535" stroke-width="0.2" >0–I</text>
<text x="106.90" y="684.70" font-size="10.7" text-anchor="start" font-weight="normal" font-style="normal" fill="#359535" stroke="#359535" stroke-width="0.2" >None</text>
<text x="199.00" y="684.70" font-size="10.7" text-anchor="end" font-weight="normal" font-style="normal" fill="#111" stroke="#111" stroke-width="0.2" >31 /</text>
<text x="226.20" y="684.70" font-size="10.7" text-anchor="end" font-weight="normal" font-style="normal" fill="#111" stroke="#111" stroke-width="0.2" >145 /</text>
<text x="254.10" y="684.70" font-size="10.7" text-anchor="end" font-weight="normal" font-style="normal" fill="#111" stroke="#111" stroke-width="0.2" >714</text>
<rect x="341.00" y="678.60" width="4" height="4" rx="1" fill="#000"/>
<text x="368.80" y="684.70" font-size="10.7" text-anchor="start" font-weight="normal" font-style="normal" fill="#111" stroke="#111" stroke-width="0.2" >1.00 (reference)</text>
<rect x="477.8" y="681.00" width="6" height="1.5" fill="#222"/>
<text x="32.00" y="701.55" font-size="10.7" text-anchor="start" font-weight="normal" font-style="normal" fill="#2424b4" stroke="#2424b4" stroke-width="0.2" >II</text>
<text x="106.90" y="701.55" font-size="10.7" text-anchor="start" font-weight="normal" font-style="normal" fill="#2424b4" stroke="#2424b4" stroke-width="0.2" >None</text>
<text x="199.00" y="701.55" font-size="10.7" text-anchor="end" font-weight="normal" font-style="normal" fill="#111" stroke="#111" stroke-width="0.2" >38 /</text>
<text x="226.20" y="701.55" font-size="10.7" text-anchor="end" font-weight="normal" font-style="normal" fill="#111" stroke="#111" stroke-width="0.2" >406 /</text>
<text x="254.10" y="701.55" font-size="10.7" text-anchor="end" font-weight="normal" font-style="normal" fill="#111" stroke="#111" stroke-width="0.2" >2144</text>
<line x1="296.01" y1="697.45" x2="330.87" y2="697.45" stroke="#111" stroke-width="1.3" />
<rect x="311.52" y="695.45" width="4" height="4" rx="1" fill="#000"/>
<text x="368.80" y="701.55" font-size="10.7" text-anchor="start" font-weight="normal" font-style="normal" fill="#111" stroke="#111" stroke-width="0.2" >0.45 (0.28–0.72)</text>
<text x="472.00" y="701.55" font-size="10.7" text-anchor="start" font-weight="normal" font-style="normal" fill="#111" stroke="#111" stroke-width="0.2" >.001</text>
<text x="32.00" y="718.40" font-size="10.7" text-anchor="start" font-weight="normal" font-style="normal" fill="#2424b4" stroke="#2424b4" stroke-width="0.2" >III–IV</text>
<text x="106.90" y="718.40" font-size="10.7" text-anchor="start" font-weight="normal" font-style="normal" fill="#2424b4" stroke="#2424b4" stroke-width="0.2" >None</text>
<text x="199.00" y="718.40" font-size="10.7" text-anchor="end" font-weight="normal" font-style="normal" fill="#111" stroke="#111" stroke-width="0.2" >7 /</text>
<text x="226.20" y="718.40" font-size="10.7" text-anchor="end" font-weight="normal" font-style="normal" fill="#111" stroke="#111" stroke-width="0.2" >101 /</text>
<text x="254.10" y="718.40" font-size="10.7" text-anchor="end" font-weight="normal" font-style="normal" fill="#111" stroke="#111" stroke-width="0.2" >620</text>
<line x1="264.73" y1="714.30" x2="326.53" y2="714.30" stroke="#111" stroke-width="1.3" />
<rect x="294.01" y="712.30" width="4" height="4" rx="1" fill="#000"/>
<text x="368.80" y="718.40" font-size="10.7" text-anchor="start" font-weight="normal" font-style="normal" fill="#111" stroke="#111" stroke-width="0.2" >0.28 (0.12–0.64)</text>
<text x="472.00" y="718.40" font-size="10.7" text-anchor="start" font-weight="normal" font-style="normal" fill="#111" stroke="#111" stroke-width="0.2" >.003</text>
<text x="32.00" y="735.25" font-size="10.7" text-anchor="start" font-weight="normal" font-style="normal" fill="#bc2c36" stroke="#bc2c36" stroke-width="0.2" >0–I</text>
<text x="106.90" y="735.25" font-size="10.7" text-anchor="start" font-weight="normal" font-style="normal" fill="#bc2c36" stroke="#bc2c36" stroke-width="0.2" >Present</text>
<text x="199.00" y="735.25" font-size="10.7" text-anchor="end" font-weight="normal" font-style="normal" fill="#111" stroke="#111" stroke-width="0.2" >8 /</text>
<text x="226.20" y="735.25" font-size="10.7" text-anchor="end" font-weight="normal" font-style="normal" fill="#111" stroke="#111" stroke-width="0.2" >133 /</text>
<text x="254.10" y="735.25" font-size="10.7" text-anchor="end" font-weight="normal" font-style="normal" fill="#111" stroke="#111" stroke-width="0.2" >617</text>
<line x1="267.69" y1="731.15" x2="325.94" y2="731.15" stroke="#111" stroke-width="1.3" />
<rect x="295.30" y="729.15" width="4" height="4" rx="1" fill="#000"/>
<text x="368.80" y="735.25" font-size="10.7" text-anchor="start" font-weight="normal" font-style="normal" fill="#111" stroke="#111" stroke-width="0.2" >0.29 (0.13–0.63)</text>
<text x="472.00" y="735.25" font-size="10.7" text-anchor="start" font-weight="normal" font-style="normal" fill="#111" stroke="#111" stroke-width="0.2" >.002</text>
<text x="32.00" y="752.10" font-size="10.7" text-anchor="start" font-weight="normal" font-style="normal" fill="#bc2c36" stroke="#bc2c36" stroke-width="0.2" >II–IV</text>
<text x="106.90" y="752.10" font-size="10.7" text-anchor="start" font-weight="normal" font-style="normal" fill="#bc2c36" stroke="#bc2c36" stroke-width="0.2" >Present</text>
<text x="199.00" y="752.10" font-size="10.7" text-anchor="end" font-weight="normal" font-style="normal" fill="#111" stroke="#111" stroke-width="0.2" >36 /</text>
<text x="226.20" y="752.10" font-size="10.7" text-anchor="end" font-weight="normal" font-style="normal" fill="#111" stroke="#111" stroke-width="0.2" >544 /</text>
<text x="254.10" y="752.10" font-size="10.7" text-anchor="end" font-weight="normal" font-style="normal" fill="#111" stroke="#111" stroke-width="0.2" >2699</text>
<line x1="279.70" y1="748.00" x2="315.91" y2="748.00" stroke="#111" stroke-width="1.3" />
<rect x="295.40" y="746.00" width="4" height="4" rx="1" fill="#000"/>
<text x="368.80" y="752.10" font-size="10.7" text-anchor="start" font-weight="normal" font-style="normal" fill="#111" stroke="#111" stroke-width="0.2" >0.30 (0.18–0.48)</text>
<text x="472.30" y="752.10" font-size="10.7" text-anchor="end" font-weight="normal" font-style="normal" fill="#111" stroke="#111" stroke-width="0.2" >&lt;</text>
<text x="472.00" y="752.10" font-size="10.7" text-anchor="start" font-weight="normal" font-style="normal" fill="#111" stroke="#111" stroke-width="0.2" >.0001</text>
</svg>
</body></html>
